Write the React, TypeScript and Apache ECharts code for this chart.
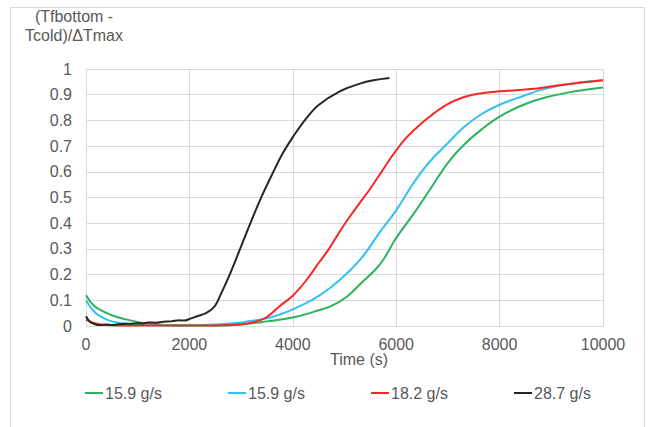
import React, { useEffect, useRef } from "react";
import * as echarts from "echarts";

const seriesNames = ["15.9 g/s", "15.9 g/s", "18.2 g/s", "28.7 g/s"];
const seriesColors = ["#2bb35b", "#33c1f3", "#ff2525", "#262626"];

const green159: [number, number][] = [
  [0, 0.12], [150, 0.08], [350, 0.055], [600, 0.035], [900, 0.02], [1200, 0.009],
  [1500, 0.004], [2000, 0.002], [2500, 0.002], [3000, 0.006], [3500, 0.018],
  [4000, 0.033], [4400, 0.055], [4750, 0.078], [5050, 0.115], [5350, 0.172],
  [5600, 0.22], [5750, 0.258], [5880, 0.302], [6000, 0.343], [6350, 0.44],
  [6650, 0.53], [7000, 0.635], [7300, 0.703], [7650, 0.765], [8000, 0.815],
  [8450, 0.86], [8900, 0.89], [9450, 0.913], [10000, 0.928],
];

const blue159: [number, number][] = [
  [0, 0.1], [100, 0.07], [200, 0.048], [400, 0.025], [650, 0.012], [1000, 0.006],
  [1500, 0.003], [2000, 0.003], [2500, 0.006], [3000, 0.014], [3500, 0.03],
  [3750, 0.045], [4000, 0.065], [4400, 0.105], [4720, 0.148], [5050, 0.205],
  [5370, 0.275], [5700, 0.37], [6000, 0.45], [6330, 0.555], [6650, 0.64],
  [7000, 0.712], [7300, 0.772], [7630, 0.822], [8000, 0.861], [8460, 0.895],
  [8850, 0.922], [9370, 0.943], [10000, 0.956],
];

const red182: [number, number][] = [
  [0, 0.025], [150, 0.012], [400, 0.004], [1000, 0.002], [2000, 0.002],
  [2800, 0.004], [3100, 0.009], [3300, 0.018], [3500, 0.035], [3750, 0.078],
  [4000, 0.118], [4270, 0.18], [4500, 0.245], [4700, 0.3], [4900, 0.365],
  [5100, 0.425], [5300, 0.48], [5500, 0.535], [5700, 0.595], [5880, 0.65],
  [6000, 0.683], [6150, 0.722], [6330, 0.76], [6650, 0.815], [6980, 0.861],
  [7300, 0.89], [7630, 0.905], [8000, 0.913], [8600, 0.922], [9240, 0.939],
  [10000, 0.956],
];

const black287: [number, number][] = [
  [0, 0.038], [40, 0.025], [80, 0.016], [150, 0.008], [200, 0.005], [300, 0.004],
  [400, 0.006], [500, 0.004], [600, 0.006], [700, 0.008], [850, 0.009],
  [1000, 0.011], [1100, 0.01], [1200, 0.014], [1350, 0.013], [1500, 0.017],
  [1650, 0.018], [1800, 0.022], [1900, 0.021], [2000, 0.027], [2150, 0.038],
  [2300, 0.048], [2400, 0.06], [2500, 0.08], [2600, 0.12], [2800, 0.21],
  [3000, 0.31], [3200, 0.41], [3400, 0.505], [3600, 0.59], [3800, 0.67],
  [4000, 0.735], [4250, 0.805], [4500, 0.86], [4900, 0.912], [5300, 0.943],
  [5560, 0.956], [5870, 0.965],
];

const allSeries = [green159, blue159, red182, black287];

const xTicks = { min: 0, max: 10000, interval: 2000 };
const yTicks = { min: 0, max: 1, interval: 0.1 };

const FONT = "'Liberation Sans', Arial, sans-serif";
const TEXT = "#595959";
const GRID = "#d9d9d9";

export default function App() {
  const ref = useRef<HTMLDivElement>(null);

  useEffect(() => {
    if (!ref.current) return;
    const chart = echarts.init(ref.current, null, { renderer: "svg" });
    const legendX = [85, 228, 371, 514];
    chart.setOption({
      animation: false,
      backgroundColor: "#ffffff",
      textStyle: { fontFamily: FONT },
      grid: { left: 86, right: 54, top: 69, bottom: 101, containLabel: false },
      legend: seriesNames.map((n, i) => ({
        left: legendX[i],
        top: 385,
        padding: 0,
        itemWidth: 18,
        itemHeight: 2,
        itemGap: 2,
        icon: "rect",
        textStyle: { color: TEXT, fontSize: 16, fontFamily: FONT, padding: [0, 0, 0, -3] },
        data: [{ name: n + "#" + i }],
        formatter: () => n,
      })),
      xAxis: {
        type: "value",
        min: xTicks.min,
        max: xTicks.max,
        interval: xTicks.interval,
        axisLine: { show: true, lineStyle: { color: GRID, width: 1 } },
        axisTick: { show: false },
        axisLabel: {
          color: TEXT,
          fontSize: 16,
          margin: 10,
          fontFamily: FONT,
          formatter: (v: number) => String(Math.round(v)),
        },
        splitLine: { show: true, lineStyle: { color: GRID, width: 1 } },
      },
      yAxis: {
        type: "value",
        min: yTicks.min,
        max: yTicks.max,
        interval: yTicks.interval,
        axisLine: { show: true, lineStyle: { color: GRID, width: 1 } },
        axisTick: { show: false },
        axisLabel: {
          color: TEXT,
          fontSize: 16,
          margin: 14,
          fontFamily: FONT,
          formatter: (v: number) => String(+v.toFixed(1)),
        },
        splitLine: { show: true, lineStyle: { color: GRID, width: 1 } },
      },
      graphic: [
        {
          type: "rect",
          shape: { x: 10.5, y: 7.5, width: 634, height: 440 },
          style: { fill: "none", stroke: GRID, lineWidth: 1 },
          silent: true,
          z: -1,
        },
        {
          type: "text",
          x: 74,
          y: 26,
          style: {
            text: "(Tfbottom -\nTcold)/ΔTmax",
            fill: TEXT,
            font: `16px ${FONT}`,
            align: "center",
            verticalAlign: "middle",
            lineHeight: 19,
          },
        },
        {
          type: "text",
          x: 359,
          y: 359,
          style: {
            text: "Time (s)",
            fill: TEXT,
            font: `16px ${FONT}`,
            align: "center",
            verticalAlign: "middle",
          },
        },
      ],
      series: allSeries.map((d, i) => ({
        name: seriesNames[i] + "#" + i,
        type: "line",
        data: d,
        smooth: 0.4,
        showSymbol: false,
        symbol: "none",
        lineStyle: { color: seriesColors[i], width: 2 },
        itemStyle: { color: seriesColors[i] },
        z: 2 + i,
      })),
    });
    return () => chart.dispose();
  }, []);

  return (
    <div
      ref={ref}
      style={{ position: "absolute", left: 0, top: 0, width: 657, height: 427 }}
    />
  );
}
